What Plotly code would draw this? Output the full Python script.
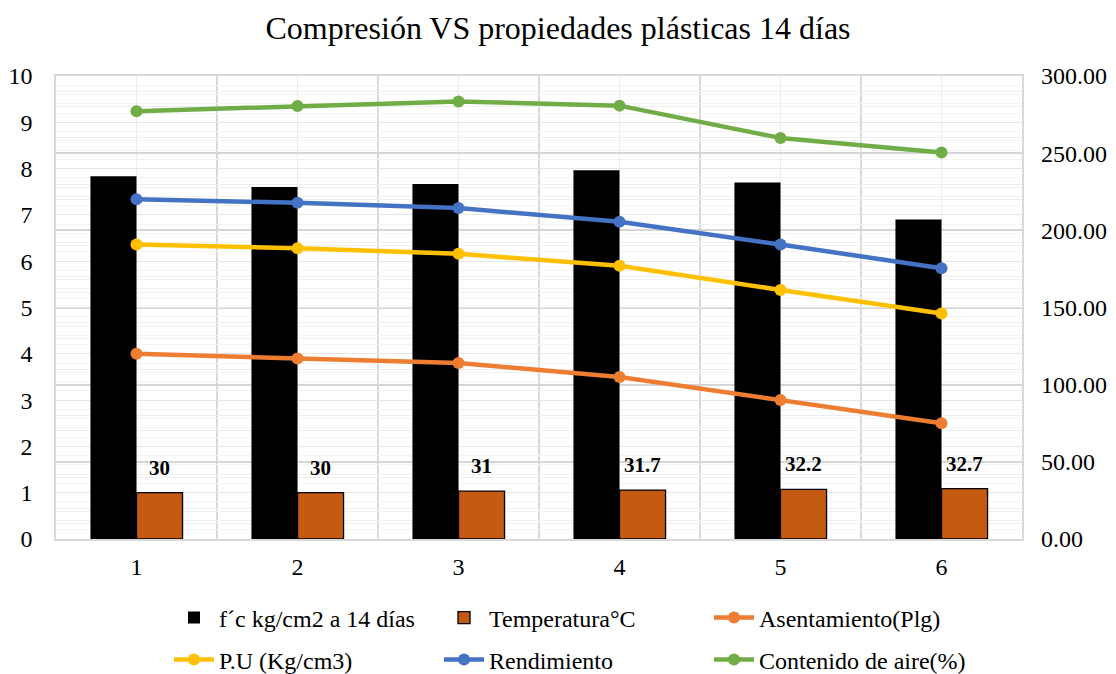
import plotly.graph_objects as go

muestras = [1, 2, 3, 4, 5, 6]
fc_14 = [235, 228, 230, 239, 231, 207]
temperatura = [30, 30, 31, 31.7, 32.2, 32.7]
asentamiento = [4.0, 3.9, 3.8, 3.5, 3.0, 2.5]
peso_unitario = [6.36, 6.28, 6.16, 5.90, 5.38, 4.87]
rendimiento = [7.34, 7.26, 7.15, 6.85, 6.36, 5.85]
contenido_aire = [9.24, 9.35, 9.45, 9.36, 8.66, 8.35]

FONT = "Liberation Serif"
bw = 0.286

fig = go.Figure()
fig.add_trace(go.Bar(x=muestras, y=fc_14, name="f´c kg/cm2 a 14 días", yaxis="y2",
                     marker=dict(color="#000000", line=dict(width=0)),
                     width=bw, offset=-bw, legend="legend"))
fig.add_trace(go.Bar(x=muestras, y=temperatura, name="Temperatura°C", yaxis="y2",
                     marker=dict(color="#C55A11", line=dict(color="#000000", width=1.3)),
                     width=bw, offset=0, legend="legend"))

lines = [("Asentamiento(Plg)", asentamiento, "#ED7D31", "legend"),
         ("P.U (Kg/cm3)", peso_unitario, "#FFC000", "legend2"),
         ("Rendimiento", rendimiento, "#4472C4", "legend2"),
         ("Contenido de aire(%)", contenido_aire, "#70AD47", "legend2")]
for name, vals, col, lg in lines:
    fig.add_trace(go.Scatter(x=muestras, y=vals, name=name, yaxis="y", mode="lines+markers",
                             line=dict(color=col, width=4.5),
                             marker=dict(color=col, size=12), legend=lg))

for xm, t in zip(muestras, temperatura):
    fig.add_annotation(x=xm + bw / 2, y=t, xref="x", yref="y2", text=f"<b>{t:g}</b>",
                       showarrow=False, yanchor="bottom", yshift=11,
                       font=dict(family=FONT, size=21, color="#000000"))

leg_common = dict(orientation="h", xref="container", x=169 / 1116, xanchor="left",
                  yref="container", yanchor="middle",
                  entrywidth=215, entrywidthmode="pixels", tracegroupgap=0,
                  font=dict(family=FONT, size=24, color="#000000"), itemwidth=40,
                  bgcolor="rgba(0,0,0,0)")

fig.update_layout(
    width=1116, height=674,
    margin=dict(l=56, r=94, t=76, b=135),
    paper_bgcolor="white", plot_bgcolor="white",
    font=dict(family=FONT, size=24, color="#000000"),
    title=dict(text="Compresión VS propiedades plásticas 14 días", x=0.5, xanchor="center",
               y=1 - 28 / 674, yanchor="middle", yref="container",
               font=dict(family=FONT, size=32, color="#000000")),
    showlegend=True,
    legend=dict(leg_common, y=1 - 618 / 674),
    legend2=dict(leg_common, y=1 - 660 / 674),
    xaxis=dict(range=[0.5, 6.5], tickvals=muestras, ticktext=[str(m) for m in muestras],
               showgrid=True, gridcolor="#ececec", gridwidth=1,
               minor=dict(tick0=0.5, dtick=1, showgrid=True, gridcolor="#d9d9d9", gridwidth=1.5),
               showline=True, linecolor="#d9d9d9", linewidth=1.5, mirror=True,
               zeroline=False, ticks="", ticklabelstandoff=5, anchor="y2", automargin=False),
    yaxis2=dict(range=[0, 300], tickvals=[0, 50, 100, 150, 200, 250, 300],
                ticktext=[f"{v:.2f}" for v in [0, 50, 100, 150, 200, 250, 300]],
                side="right", showgrid=True, gridcolor="#d6d6d6", gridwidth=1.5,
                minor=dict(dtick=10, showgrid=True, gridcolor="#eeeeee", gridwidth=1),
                zeroline=False, showline=False, ticks="", ticklabelstandoff=18, anchor="x",
                automargin=False),
    yaxis=dict(range=[0, 10], dtick=1, side="left", overlaying="y2",
               showgrid=True, gridcolor="#e6e6e6", gridwidth=1,
               minor=dict(dtick=0.2, showgrid=True, gridcolor="#f3f3f3", gridwidth=1),
               zeroline=False, showline=True, linecolor="#d9d9d9", linewidth=1.5, mirror=True,
               ticks="", ticklabelstandoff=17, anchor="x", automargin=False),
)

fig.write_html("out.html")
